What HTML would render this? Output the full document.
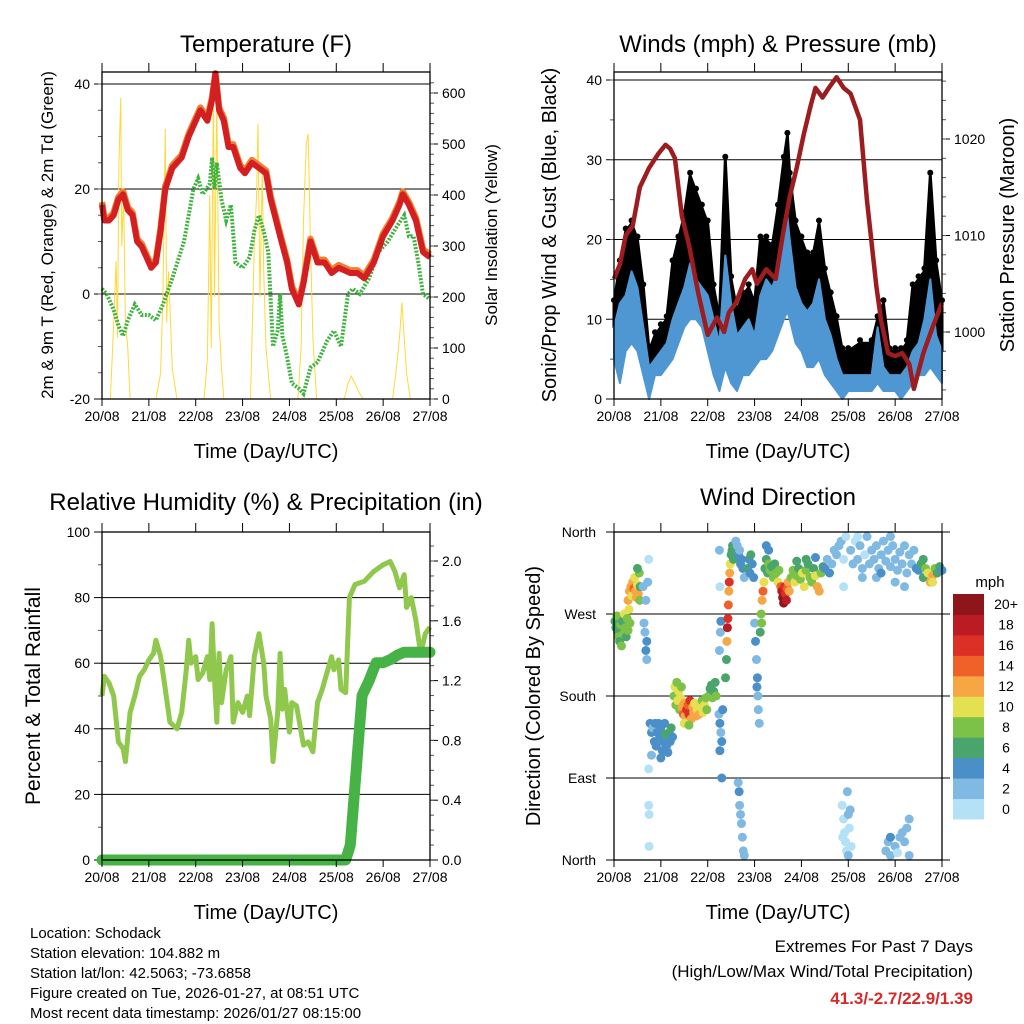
<!DOCTYPE html>
<html><head><meta charset="utf-8"><style>
html,body{margin:0;padding:0;background:#fff;}
svg{display:block;font-family:"Liberation Sans",sans-serif;}
</style></head><body>
<svg id="fig" width="1024" height="1024" viewBox="0 0 1024 1024" xmlns="http://www.w3.org/2000/svg">
<rect width="1024" height="1024" fill="#fff"/>
<text x="266" y="52" font-size="24" text-anchor="middle">Temperature (F)</text>
<text x="266" y="510" font-size="24" text-anchor="middle">Relative Humidity (%) &amp; Precipitation (in)</text>
<text x="778" y="505" font-size="24" text-anchor="middle">Wind Direction</text>
<g font-size="15">
<text x="30" y="938">Location: Schodack</text>
<text x="30" y="958">Station elevation: 104.882 m</text>
<text x="30" y="978">Station lat/lon: 42.5063; -73.6858</text>
<text x="30" y="998">Figure created on Tue, 2026-01-27, at 08:51 UTC</text>
<text x="30" y="1018">Most recent data timestamp: 2026/01/27 08:15:00</text>
</g>
<g text-anchor="end">
<text x="973" y="952" font-size="17">Extremes For Past 7 Days</text>
<text x="973" y="977" font-size="17">(High/Low/Max Wind/Total Precipitation)</text>
<text x="973" y="1004" font-size="17" font-weight="bold" fill="#d42a2a">41.3/-2.7/22.9/1.39</text>
</g>
</svg>
<script>
// ===== data =====
const dayLabels=["20/08","21/08","22/08","23/08","24/08","25/08","26/08","27/08"];
const tempTimes=[0,0.05,0.15,0.25,0.35,0.45,0.55,0.65,0.75,0.85,0.95,1.05,1.15,1.25,1.35,1.5,1.7,1.85,2.0,2.1,2.25,2.35,2.42,2.5,2.6,2.7,2.8,2.95,3.05,3.2,3.35,3.5,3.6,3.8,3.95,4.05,4.2,4.3,4.45,4.6,4.75,4.9,5.05,5.3,5.45,5.6,5.8,6.0,6.2,6.35,6.42,6.55,6.7,6.85,7.0];
const temp2m=[17,14,14,15,18,19,16,15,10,9,7,5,6,12,20,24,26,30,33,35,33,37,42,35,33,28,28,24,23,25,24,23,18,11,6,1,-2,2,10,6,6,4,5,4,4,3,6,11,14,17,19,17,14,8,7];
const temp9m=[17.5,14.5,14.5,15.5,18.5,19.5,16.5,15.5,10.5,9.5,7.5,5.5,6.5,12.5,20.5,24.5,26.5,30.5,33.5,35.5,33.5,37.5,42,35.5,33.5,28.5,28.5,24.5,23.5,25.5,24.5,23.5,18.5,11.5,6.5,1.5,-1.5,2.5,10.5,6.5,6.5,4.5,5.5,4.5,4.5,3.5,6.5,11.5,14.5,17.5,19.5,17.5,14.5,8.5,7.5];
const dewTimes=[0,0.1,0.25,0.35,0.45,0.55,0.7,0.85,1.0,1.15,1.3,1.5,1.75,1.85,1.95,2.05,2.15,2.3,2.35,2.4,2.45,2.55,2.65,2.75,2.85,3.0,3.15,3.25,3.35,3.45,3.55,3.65,3.75,3.8,3.85,3.95,4.05,4.2,4.3,4.45,4.6,4.8,4.95,5.1,5.25,5.35,5.5,5.7,5.9,6.1,6.3,6.45,6.55,6.65,6.75,6.85,7.0];
const dewpoint=[1,0,-3,-6,-8,-5,-2,-4,-4,-5,-2,3,10,15,20,22,19,21,26,20,25,18,14,17,6,5,7,12,15,12,8,-10,-7,0,-8,-12,-17,-18,-19,-14,-13,-9,-7,-10,0,1,0,3,8,10,13,15,11,11,6,0,-1];
const solarTimes=[0,0.18,0.25,0.3,0.33,0.36,0.4,0.42,0.46,0.5,0.55,0.6,1.15,1.25,1.3,1.35,1.38,1.42,1.5,1.6,2.18,2.25,2.3,2.33,2.38,2.4,2.45,2.5,2.55,2.6,3.17,3.25,3.3,3.33,3.37,3.42,3.45,3.5,3.55,3.6,4.18,4.25,4.3,4.36,4.4,4.45,4.5,4.58,5.17,5.25,5.32,5.4,5.5,5.58,6.2,6.27,6.35,6.4,6.45,6.5,6.58,7.0];
const solar=[0,0,150,270,120,460,590,300,400,150,100,0,0,50,200,530,150,250,60,0,0,80,400,100,620,200,580,150,60,0,0,300,400,540,200,450,250,100,50,0,0,100,350,500,520,300,120,0,0,30,45,30,10,0,0,50,120,190,120,50,0,0];

const windTimes=[0,0.125,0.25,0.375,0.5,0.625,0.75,0.875,1.0,1.125,1.25,1.375,1.5,1.625,1.75,1.875,2.0,2.125,2.25,2.375,2.5,2.625,2.75,2.875,3.0,3.125,3.25,3.375,3.5,3.625,3.7,3.75,3.875,4.0,4.125,4.25,4.375,4.5,4.625,4.75,4.875,5.0,5.25,5.5,5.625,5.75,5.875,6.0,6.125,6.25,6.375,6.5,6.625,6.75,6.875,7.0];
const windLow=[5,2,6,7,6,3,0,3,3,4,5,7,9,10,10,9,6,3,1,4,2,1,3,3,4,5,5,6,8,10,11,10,7,6,4,4,5,3,2,1,0,1,1,1,2,1,1,1,0,1,2,3,3,4,3,2];
const windHigh=[9,12,13,16,14,9,4,5,6,7,10,12,14,17,15,14,13,10,7,18,12,8,9,10,8,13,15,14,16,20,23,20,14,12,11,12,15,10,8,5,3,3,3,3,9,4,3,3,3,4,6,7,10,15,8,6];
const gustHigh=[12,17,21,22,20,14,6,8,9,10,17,20,23,28,26,24,22,14,10,30,15,11,13,14,12,20,20,19,24,30,33,28,22,20,18,18,22,16,13,10,6,6,7,7,10,12,6,6,6,7,14,15,16,28,17,12];
const presTimes=[0,0.125,0.25,0.4,0.55,0.75,0.95,1.1,1.2,1.3,1.45,1.6,1.8,2.0,2.2,2.35,2.45,2.6,2.8,2.95,3.05,3.25,3.45,3.6,3.75,3.9,4.05,4.2,4.3,4.45,4.6,4.75,4.9,5.05,5.25,5.4,5.6,5.7,5.85,6.0,6.15,6.3,6.4,6.6,6.8,7.0];
const pressure=[1005.5,1007,1010,1011,1015,1017,1018.5,1019.4,1019,1018,1012,1009,1004,999.7,1001.5,1000,1002,1003,1005.5,1006.5,1005,1006.5,1005.5,1010,1014,1017,1020.5,1023.5,1025.3,1024.3,1025.4,1026.4,1025.3,1024.7,1022,1013.6,1004.7,1001.2,997.8,997.5,997.8,996.7,994.1,997.8,1000.5,1003];

const rhTimes=[0,0.05,0.15,0.25,0.35,0.45,0.5,0.6,0.7,0.8,0.9,1.0,1.1,1.15,1.25,1.35,1.45,1.6,1.7,1.8,1.85,1.9,2.0,2.05,2.15,2.25,2.3,2.35,2.4,2.45,2.5,2.55,2.65,2.75,2.8,2.9,3.0,3.1,3.15,3.25,3.35,3.45,3.5,3.6,3.65,3.75,3.8,3.85,3.9,4.0,4.05,4.15,4.3,4.4,4.5,4.6,4.7,4.8,4.9,4.95,5.05,5.1,5.2,5.28,5.4,5.6,5.8,5.9,6.0,6.15,6.25,6.35,6.45,6.5,6.6,6.7,6.8,6.85,6.9,7.0];
const rh=[50,56,54,50,36,34,30,45,50,56,58,61,63,67,62,52,42,40,45,58,67,60,62,55,57,62,55,72,55,42,63,48,58,62,42,48,45,50,44,62,69,60,50,43,30,45,63,46,52,39,48,47,35,36,33,48,52,57,62,58,61,52,51,80,84,85,88,89,90,91,88,83,87,77,80,73,63,66,69,71];
const rainTimes=[0,5.2,5.3,5.4,5.5,5.55,5.7,5.85,6.0,6.15,6.3,6.45,7.0];
const rain=[0,0,0.1,0.5,0.9,1.1,1.2,1.32,1.32,1.34,1.37,1.39,1.39];

// wind direction observations: time (days), direction (deg), speed (mph)
const dirTimes=[
0.02,0.04,0.06,0.08,0.1,0.12,0.14,0.16,0.18,0.2,0.22,0.24,0.26,0.28,0.3,0.32,0.34,
0.3,0.33,0.36,0.38,0.4,0.42,0.44,0.46,0.48,0.5,0.52,0.54,0.55,0.5,0.56,
0.62,0.64,0.66,0.68,0.7,0.72,0.74,0.68,0.7,
0.74,0.74,0.75,0.75,
0.77,0.8,0.83,0.86,0.88,0.9,0.92,0.95,0.98,1.0,1.03,1.05,1.08,1.1,1.12,1.15,1.18,1.2,1.22,1.25,0.8,1.0,
1.28,1.3,1.32,1.34,1.36,1.38,1.4,1.42,1.44,
1.45,1.48,1.5,1.52,1.55,1.58,1.6,1.62,1.65,1.68,1.7,1.72,1.75,1.78,1.8,1.82,1.85,1.88,1.9,1.93,1.96,1.98,1.5,1.6,
2.02,2.05,2.08,2.1,2.13,2.16,2.18,
2.24,2.26,2.28,2.3,2.32,2.26,2.25,2.27,2.28,2.26,2.25,2.3,
2.38,2.4,2.41,2.42,2.43,2.44,2.45,2.46,2.47,2.48,2.5,2.52,2.55,2.53,
2.6,2.63,2.66,2.68,2.7,2.72,2.75,2.78,2.65,2.67,2.68,2.7,2.72,2.74,2.76,2.78,
2.85,2.88,2.9,2.92,2.95,2.98,
3.0,3.02,3.04,3.06,3.07,3.08,3.1,3.05,
3.12,3.14,3.16,3.18,3.2,3.15,
3.22,3.25,3.28,3.3,3.33,3.36,3.4,3.43,3.46,3.5,3.52,3.25,3.3,
3.56,3.58,3.6,3.62,3.64,3.66,3.68,3.7,3.72,3.74,
3.78,3.82,3.86,3.9,3.94,3.98,4.02,4.06,4.1,4.14,4.18,4.22,4.26,4.3,4.34,4.38,4.42,4.46,3.9,4.1,4.3,
4.5,4.55,4.6,4.65,4.7,4.75,4.8,4.85,4.9,4.95,4.9,
4.87,4.9,4.92,4.94,4.96,4.98,5.0,5.02,5.04,5.06,4.88,5.0,
5.05,5.1,5.15,5.2,5.25,5.3,5.35,5.4,5.45,5.5,5.55,5.6,5.65,5.7,5.75,5.8,5.85,5.9,5.95,6.0,6.05,6.1,6.15,6.2,6.25,6.3,6.35,6.4,6.45,5.3,5.6,6.0,5.2,5.9,5.7,6.2,
5.8,5.85,5.9,6.0,6.05,6.1,6.15,6.2,6.25,6.3,6.3,5.9,
6.5,6.55,6.6,6.65,6.7,6.75,6.8,6.85,6.9,6.95,7.0,6.6,6.8];
const dirDeg=[
262,255,268,250,245,240,258,235,262,248,270,255,245,265,252,275,260,
285,295,300,290,305,298,310,295,288,302,292,315,285,320,300,
300,260,250,230,220,305,330,285,240,
100,60,50,15,
150,140,145,130,150,125,140,150,135,145,120,130,150,138,125,118,140,130,145,135,115,112,
180,190,170,195,175,185,165,178,190,
168,160,172,158,165,170,160,175,155,168,162,172,158,165,170,160,168,175,162,170,178,165,150,148,
180,188,192,178,185,195,180,
160,150,140,130,165,120,230,250,262,300,340,90,
200,220,240,255,265,280,295,305,315,325,335,340,330,345,
350,345,335,340,325,330,320,310,85,75,60,50,40,25,10,5,
320,330,315,335,325,310,
260,240,220,200,180,165,150,190,
250,270,285,295,305,260,
320,330,315,325,318,322,310,325,315,305,318,345,340,
300,295,288,282,300,292,285,298,305,295,
310,318,305,312,320,308,315,300,318,325,310,305,320,312,300,295,315,322,328,330,332,
320,330,315,325,340,335,345,350,330,355,300,
60,45,30,20,10,75,5,35,55,15,25,50,
340,325,350,330,345,320,335,355,325,340,330,345,320,335,350,328,340,322,345,330,318,338,325,345,315,335,325,340,320,310,310,305,355,355,315,300,
10,20,5,15,8,25,30,20,35,45,5,25,
318,325,310,320,315,305,312,320,315,322,318,330,305];
const dirSpd=[
6,7,8,7,8,7,9,8,7,9,10,8,7,9,8,10,8,
12,12,13,11,12,14,10,12,13,11,12,8,9,6,6,
3,3,2,4,3,2,1,2,4,
1,1,1,1,
4,4,3,4,4,5,4,4,5,4,4,5,4,6,4,5,6,4,6,4,3,4,
9,10,8,9,10,11,9,10,8,
13,14,12,13,16,15,17,16,12,13,12,11,12,10,11,12,10,9,11,10,8,9,10,9,
8,7,6,9,7,6,8,
3,4,3,4,5,4,3,2,4,1,2,4,
6,7,12,18,16,14,12,16,13,10,7,6,7,7,
2,3,4,3,4,4,5,3,3,4,2,3,2,2,3,2,
6,5,4,7,5,4,
3,4,3,4,3,2,3,4,
7,9,12,14,10,8,
6,7,6,8,9,7,8,6,9,10,8,4,5,
14,18,20,21,17,16,19,15,13,12,
9,8,10,9,7,8,10,11,8,7,9,8,7,10,12,13,9,7,6,6,5,
4,3,4,3,2,3,2,2,1,1,1,
1,1,1,1,1,2,2,1,2,1,1,3,
2,2,1,2,2,2,1,2,2,3,2,2,3,2,2,3,2,3,2,2,3,2,3,2,2,3,2,3,4,2,2,3,1,2,4,2,
2,3,2,2,1,2,3,2,2,3,2,4,
5,6,7,8,10,12,13,9,7,6,5,6,11];
const speedBins=["0","2","4","6","8","10","12","14","16","18","20+"];
const binColors=["#b5e1f7","#80b9e2","#4a8fc7","#4aa56d","#7cc248","#e5df52","#f6a744","#ef6128","#dc3027","#bb1c23","#8e1519"];

// ===== helpers =====
const svg=document.getElementById('fig');
const NS="http://www.w3.org/2000/svg";
function mk(tag,attrs,parent){const e=document.createElementNS(NS,tag);for(const k in attrs)e.setAttribute(k,attrs[k]);(parent||svg).appendChild(e);return e;}
function linePath(xs,ys,fx,fy){return xs.map((t,i)=>(i?'L':'M')+fx(t).toFixed(1)+','+fy(ys[i]).toFixed(1)).join('');}

function frame(name,x0,x1,y0,y1,g){
  const f=mk('rect',{x:x0,y:y0,width:x1-x0,height:y1-y0,fill:'none',stroke:'#000','stroke-width':1.3},g);
  
  
  const fx=d=>x0+(x1-x0)*d/7;
  for(let d=0;d<=7;d++){
    const tk=mk('line',{x1:fx(d),x2:fx(d),y1:y0-9,y2:y0,stroke:'#000','stroke-width':1},g);
    
    
    const tb=mk('line',{x1:fx(d),x2:fx(d),y1:y1,y2:y1+7,stroke:'#000','stroke-width':1},g);
    
    
    const lb=mk('text',{x:fx(d),y:y1+22,'font-size':14,'text-anchor':'middle'},g);
    lb.textContent=dayLabels[d];
    
    
  }
  const xt=mk('text',{x:(x0+x1)/2,y:y1+59,'font-size':20,'text-anchor':'middle'},g);
  xt.textContent='Time (Day/UTC)';
  
  
  return fx;
}
function yTicks(name,vals,fy,x0,x1,side,fmt,grid,g,minors){
  vals.forEach(v=>{
    const y=fy(v);
    if(grid){const gl=mk('line',{x1:x0,x2:x1,y1:y,y2:y,stroke:'#000','stroke-width':1},g);
      
      }
    const xa=side==='left'?x0:x1, dir=side==='left'?-1:1;
    const tk=mk('line',{x1:xa,x2:xa+dir*8,y1:y,y2:y,stroke:'#000','stroke-width':1},g);
    
    
    const t=mk('text',{x:xa+dir*12,y:y+5,'font-size':14,'text-anchor':side==='left'?'end':'start'},g);
    t.textContent=fmt(v);
    
    
  });
  (minors||[]).forEach(v=>{const y=fy(v);const xa=side==='left'?x0:x1,dir=side==='left'?-1:1;
    const tk=mk('line',{x1:xa,x2:xa+dir*4,y1:y,y2:y,stroke:'#555','stroke-width':1},g);
    
    });
}
function vTitle(txt,x,y,size,g,name){
  const t=mk('text',{x:0,y:0,'font-size':size,'text-anchor':'middle',transform:`translate(${x},${y}) rotate(-90)`},g);
  t.textContent=txt;
  
  
}
function range(a,b,s){const r=[];for(let v=a;v<=b+1e-9;v+=s)r.push(+v.toFixed(3));return r;}

// ===== Panel 1: temperature =====
(function(){
  const g=mk('g',{});
  
  
  const x0=102,x1=430,y0=72,y1=399;
  const fyL=v=>399-(v+20)*315/60;
  const fyR=v=>399-v*0.51;
  const fx=d=>x0+(x1-x0)*d/7;
  yTicks('temp-left',[-20,0,20,40],fyL,x0,x1,'left',v=>v,true,g,range(-15,40,5));
  yTicks('solar-right',[0,100,200,300,400,500,600],fyR,x0,x1,'right',v=>v,false,g,range(0,620,20));
  const sp=mk('path',{d:linePath(solarTimes,solar,fx,fyR),fill:'none',stroke:'#ffd83a','stroke-width':1},g);
  
  
  const dp=mk('path',{d:linePath(dewTimes,dewpoint,fx,fyL),fill:'none',stroke:'#3fb23f','stroke-width':4,'stroke-dasharray':'2 1.5'},g);
  
  
  const t9=mk('path',{d:linePath(tempTimes,temp9m,fx,fyL),fill:'none',stroke:'#f08030','stroke-width':6.5,'stroke-linejoin':'round'},g);
  
  
  const t2=mk('path',{d:linePath(tempTimes,temp2m,fx,fyL),fill:'none',stroke:'#d41f22','stroke-width':6,'stroke-linejoin':'round'},g);
  
  
  frame('temperature',x0,x1,y0,y1,g);
  vTitle('2m & 9m T (Red, Orange) & 2m Td (Green)',53,235,17,g,'temp-y-axis-title');
  vTitle('Solar Insolation (Yellow)',497,235,17,g,'solar-y-axis-title');
})();

// ===== Panel 2: winds & pressure =====
(function(){
  const g=mk('g',{});
  
  
  const x0=614,x1=942,y0=72,y1=399;
  const fyL=v=>399-v*7.975;
  const fyR=p=>332-(p-1000)*9.65;
  const fx=d=>x0+(x1-x0)*d/7;
  yTicks('wind-left',[0,10,20,30,40],fyL,x0,x1,'left',v=>v,true,g,range(5,40,5));
  yTicks('pressure-right',[1000,1010,1020],fyR,x0,x1,'right',v=>v,false,g,range(994,1026,2));
  let up=windTimes.map((t,i)=>fx(t).toFixed(1)+','+fyL(gustHigh[i]).toFixed(1));
  let dn=windTimes.map((t,i)=>fx(t).toFixed(1)+','+fyL(windHigh[i]).toFixed(1)).reverse();
  const gb=mk('polygon',{points:up.concat(dn).join(' '),fill:'#000',stroke:'#000','stroke-width':3,'stroke-linejoin':'round'},g);
  
  
  windTimes.forEach((t,i)=>{const c=mk('circle',{cx:fx(t),cy:fyL(gustHigh[i])-3,r:3,fill:'#000'},g);
    
    });
  up=windTimes.map((t,i)=>fx(t).toFixed(1)+','+fyL(windHigh[i]).toFixed(1));
  dn=windTimes.map((t,i)=>fx(t).toFixed(1)+','+fyL(windLow[i]).toFixed(1)).reverse();
  const wb=mk('polygon',{points:up.concat(dn).join(' '),fill:'#4f97d3',stroke:'#4f97d3','stroke-width':2,'stroke-linejoin':'round'},g);
  
  
  const pp=mk('path',{d:linePath(presTimes,pressure,fx,fyR),fill:'none',stroke:'#9c1c1f','stroke-width':4.5,'stroke-linejoin':'round'},g);
  
  
  const top=mk('rect',{x:x0-1,y:0,width:x1-x0+2,height:y0,fill:'#fff'},g);
  
  
  frame('winds',x0,x1,y0,y1,g);
  const tt=mk('text',{x:778,y:52,'font-size':24,'text-anchor':'middle'},g);
  tt.textContent='Winds (mph) & Pressure (mb)';
  
  
  vTitle('Sonic/Prop Wind & Gust (Blue, Black)',556,235,20,g,'wind-y-axis-title');
  vTitle('Station Pressure (Maroon)',1014,235,20,g,'pressure-y-axis-title');
})();

// ===== Panel 3: RH & precip =====
(function(){
  const g=mk('g',{});
  
  
  const x0=102,x1=430,y0=532,y1=860;
  const fyL=v=>860-3.28*v;
  const fyR=r=>860-149.5*r;
  const fx=d=>x0+(x1-x0)*d/7;
  yTicks('rh-left',[0,20,40,60,80,100],fyL,x0,x1,'left',v=>v,true,g,range(10,90,20));
  yTicks('rain-right',[0,0.4,0.8,1.2,1.6,2.0],fyR,x0,x1,'right',v=>v.toFixed(1),false,g,range(0.1,2.1,0.1));
  const rp=mk('path',{d:linePath(rhTimes,rh,fx,fyL),fill:'none',stroke:'#8fc84c','stroke-width':5,'stroke-linejoin':'round'},g);
  
  
  const pr=mk('path',{d:linePath(rainTimes,rain,fx,fyR),fill:'none',stroke:'#47b347','stroke-width':11,'stroke-linejoin':'round','stroke-linecap':'round'},g);
  
  
  frame('humidity',x0,x1,y0,y1,g);
  vTitle('Percent & Total Rainfall',40,696,21,g,'rh-y-axis-title');
})();

// ===== Panel 4: wind direction =====
(function(){
  const g=mk('g',{});
  
  
  const x0=614,x1=942,y0=532,y1=860;
  const fy=d=>860-d*328/360;
  const fx=d=>x0+(x1-x0)*d/7;
  const names=['North','East','South','West','North'];
  [0,90,180,270,360].forEach((v,i)=>{
    const gl=mk('line',{x1:x0-8,x2:x1+8,y1:fy(v),y2:fy(v),stroke:'#000','stroke-width':1},g);
    
    
    const t=mk('text',{x:596,y:fy(v)+5,'font-size':14,'text-anchor':'end'},g);
    t.textContent=names[i];
    
    
  });
  dirTimes.forEach((t,i)=>{
    const b=Math.min(10,Math.floor(dirSpd[i]/2));
    const c=mk('circle',{cx:fx(t),cy:fy(dirDeg[i]),r:4.5,fill:binColors[b]},g);
    
    
  });
  frame('wind-direction',x0,x1,y0,y1,g);
  vTitle('Direction (Colored By Speed)',540,696,20,g,'direction-y-axis-title');
  const ml=mk('text',{x:990,y:587,'font-size':15,'text-anchor':'middle'},g);
  ml.textContent='mph';
  
  
  const bh=225/11;
  speedBins.forEach((lab,i)=>{
    const y=594+(10-i)*bh;
    const r=mk('rect',{x:953,y:y,width:31,height:bh+0.5,fill:binColors[i]},g);
    
    
    const t=mk('text',{x:1006,y:y+bh/2+5,'font-size':14,'text-anchor':'middle'},g);
    t.textContent=lab;
    
    
  });
})();
</script>
</body></html>
